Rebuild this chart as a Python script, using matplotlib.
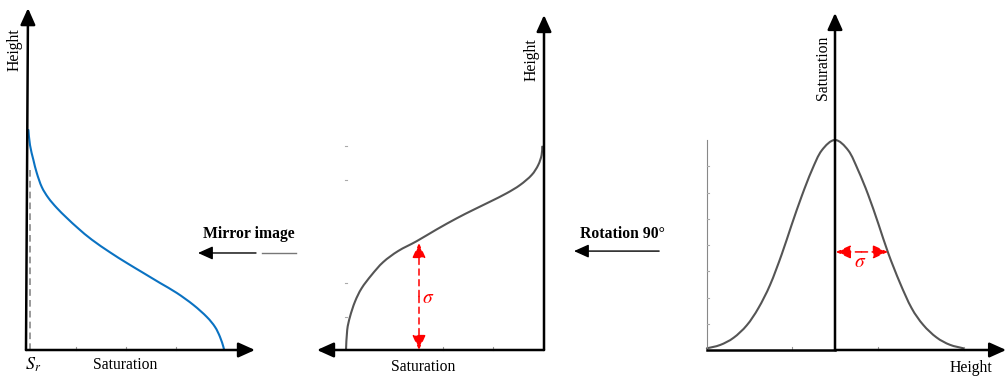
import matplotlib
matplotlib.use('Agg')
import matplotlib.pyplot as plt
from matplotlib.path import Path
from matplotlib.patches import PathPatch

plt.rcParams['font.family'] = ['Liberation Serif', 'DejaVu Serif']
plt.rcParams['mathtext.fontset'] = 'stix'

W, H = 1006, 376

# panel 1: original drainage curve (saturation vs height)
drain_sat = [0.012, 0.02, 0.037, 0.054, 0.079, 0.112, 0.154, 0.204, 0.262, 0.329,
             0.42, 0.504, 0.587, 0.67, 0.754, 0.837, 0.904, 0.945, 0.97, 0.987, 0.99]
drain_height = [0.991, 0.923, 0.856, 0.797, 0.734, 0.685, 0.640, 0.595, 0.547, 0.497,
                0.440, 0.392, 0.347, 0.302, 0.257, 0.203, 0.149, 0.104, 0.059, 0.014, 0.0]
sat_residual = 0.02
sr_top = 0.82

# panel 2: mirrored curve
mirror_sat = [0.99, 0.984, 0.97, 0.945, 0.912, 0.862, 0.804, 0.729, 0.637, 0.537,
              0.437, 0.354, 0.27, 0.187, 0.12, 0.062, 0.029, 0.012, 0.009]
mirror_height = [0.0, 0.09, 0.15, 0.218, 0.278, 0.338, 0.396, 0.446, 0.49, 0.543,
                 0.593, 0.631, 0.668, 0.706, 0.743, 0.788, 0.833, 0.878, 0.916]
mirror_sigma_sat = 0.625
mirror_sigma_top = 0.482

# panel 3: rotated curve (bell shape), height in sigma units
bell_height = [-2.98, -2.67, -2.36, -2.05, -1.78, -1.51, -1.24, -1.01, -0.77, -0.54, -0.31,
               0.0, 0.31, 0.54, 0.77, 1.01, 1.24, 1.51, 1.78, 2.05, 2.36, 2.67, 2.99]
bell_sat = [0.008, 0.024, 0.058, 0.118, 0.2, 0.31, 0.455, 0.595, 0.735, 0.855, 0.95,
            1.0, 0.95, 0.855, 0.74, 0.6, 0.46, 0.32, 0.2, 0.12, 0.06, 0.025, 0.008]
bell_sigma = 1.23
bell_sigma_level = 0.467
bell_xticks = [-1, 1, 3]
bell_yticks = [0.125, 0.25, 0.375, 0.5, 0.625, 0.75, 0.875]

BLUE = '#0a72c2'
GREY = '#555555'
RED = '#ff0000'
FS = 11.3


def make_panel(fig, left, right, ox, oy, sx, sy):
    # axes spanning pixel columns left..right, data origin at pixel (ox, oy)
    ax = fig.add_axes([left / W, 0, (right - left) / W, 1])
    ax.set_xlim((left - ox) / sx, (right - ox) / sx)
    ax.set_ylim((oy - H) / sy, oy / sy)
    ax.axis('off')
    return ax


def smooth_curve(ax, xs, ys, **kw):
    # smooth line through the read points (Catmull-Rom as Bezier segments)
    pts = list(zip(xs, ys))
    verts = [pts[0]]
    codes = [Path.MOVETO]
    for i in range(len(pts) - 1):
        p0 = pts[i - 1] if i > 0 else pts[i]
        p1 = pts[i]
        p2 = pts[i + 1]
        p3 = pts[i + 2] if i + 2 < len(pts) else p2
        c1 = (p1[0] + (p2[0] - p0[0]) / 6, p1[1] + (p2[1] - p0[1]) / 6)
        c2 = (p2[0] - (p3[0] - p1[0]) / 6, p2[1] - (p3[1] - p1[1]) / 6)
        verts += [c1, c2, p2]
        codes += [Path.CURVE4] * 3
    ax.add_patch(PathPatch(Path(verts, codes), fill=False, capstyle='round', **kw))


def arrow(ax, start, end, color='black', lw=1.8, ls='-', scale=10):
    ax.annotate('', xy=end, xytext=start,
                arrowprops=dict(arrowstyle='-|>,head_length=1.0,head_width=0.45',
                                color=color, lw=lw, ls=ls, mutation_scale=scale,
                                shrinkA=0, shrinkB=0))


fig = plt.figure(figsize=(W / 100, H / 100), dpi=100)

# ---------- panel 1 ----------
ax1 = make_panel(fig, 0, 300, 26, 350, 200, 222)
smooth_curve(ax1, drain_sat, drain_height, edgecolor=BLUE, lw=1.5)
ax1.plot([sat_residual, sat_residual], [0, sr_top], color='#888888', lw=1.2, ls=(0, (4, 2.5)))
for t in [0.25, 0.5, 0.75]:
    ax1.plot([t, t], [0, 0.012], color='#999999', lw=0.8)
arrow(ax1, (0, 0), (1.145, 0))
arrow(ax1, (0, 0), (0.01, 1.54))
ax1.text(-0.055, 1.351, 'Height', rotation=90, ha='center', va='center', fontsize=FS)
ax1.text(0.035, -0.068, '$S_r$', ha='center', va='center', fontsize=13)
ax1.text(0.495, -0.068, 'Saturation', ha='center', va='center', fontsize=FS)
ax1.text(1.115, 0.523, 'Mirror image', ha='center', va='center', fontsize=FS, fontweight='bold')
arrow(ax1, (1.15, 0.437), (0.86, 0.437), lw=1.0, scale=9)
ax1.plot([1.18, 1.35], [0.437, 0.437], color='#777777', lw=1.0)

# ---------- panel 2 ----------
ax2 = make_panel(fig, 300, 560, 544, 350, -200, 222)
smooth_curve(ax2, mirror_sat, mirror_height, edgecolor=GREY, lw=1.5)
for t in [0.255, 0.505]:
    ax2.plot([t, t], [0, 0.012], color='#999999', lw=0.8)
for t in [0.149, 0.302, 0.766, 0.919]:
    ax2.plot([0.995, 0.985], [t, t], color='#aaaaaa', lw=0.8)
arrow(ax2, (0, 0), (1.135, 0))
arrow(ax2, (0, 0), (0.0, 1.509))
arrow(ax2, (mirror_sigma_sat, mirror_sigma_top / 2), (mirror_sigma_sat, mirror_sigma_top),
      color=RED, lw=1.1, ls=(0, (4, 3)), scale=9)
arrow(ax2, (mirror_sigma_sat, mirror_sigma_top / 2), (mirror_sigma_sat, 0),
      color=RED, lw=1.1, ls=(0, (4, 3)), scale=9)
ax2.text(0.58, 0.23, r'$\sigma$', color=RED, ha='center', va='center', fontsize=14)
ax2.text(0.06, 1.306, 'Height', rotation=90, ha='center', va='center', fontsize=FS)
ax2.text(0.605, -0.077, 'Saturation', ha='center', va='center', fontsize=FS)

# ---------- panel 3 ----------
ax3 = make_panel(fig, 560, 1006, 835, 350, 43, 210)
smooth_curve(ax3, bell_height, bell_sat, edgecolor=GREY, lw=1.5)
ax3.plot([-2.98, -2.98], [0, 1.0], color='#888888', lw=0.8)
for t in bell_yticks:
    ax3.plot([-2.98, -2.92], [t, t], color='#aaaaaa', lw=0.8)
for t in bell_xticks:
    ax3.plot([t, t], [0, 0.014], color='#999999', lw=0.8)
ax3.plot([-2.98, 0], [0, 0], color='black', lw=1.8)
arrow(ax3, (0, 0), (3.98, 0))
arrow(ax3, (0, 0), (0, 1.605))
arrow(ax3, (bell_sigma / 2, bell_sigma_level), (0.02, bell_sigma_level),
      color=RED, lw=1.1, ls=(0, (4, 3)), scale=9)
arrow(ax3, (bell_sigma / 2, bell_sigma_level), (bell_sigma, bell_sigma_level),
      color=RED, lw=1.1, ls=(0, (4, 3)), scale=9)
ax3.text(0.58, 0.415, r'$\sigma$', color=RED, ha='center', va='center', fontsize=14)
ax3.text(-0.28, 1.343, 'Saturation', rotation=90, ha='center', va='center', fontsize=FS)
ax3.text(3.16, -0.086, 'Height', ha='center', va='center', fontsize=FS)
ax3.text(-4.95, 0.552, 'Rotation 90°', ha='center', va='center', fontsize=FS, fontweight='bold')
arrow(ax3, (-4.09, 0.471), (-6.07, 0.471), lw=1.0, scale=9)

fig.savefig('out.png', dpi=100)
